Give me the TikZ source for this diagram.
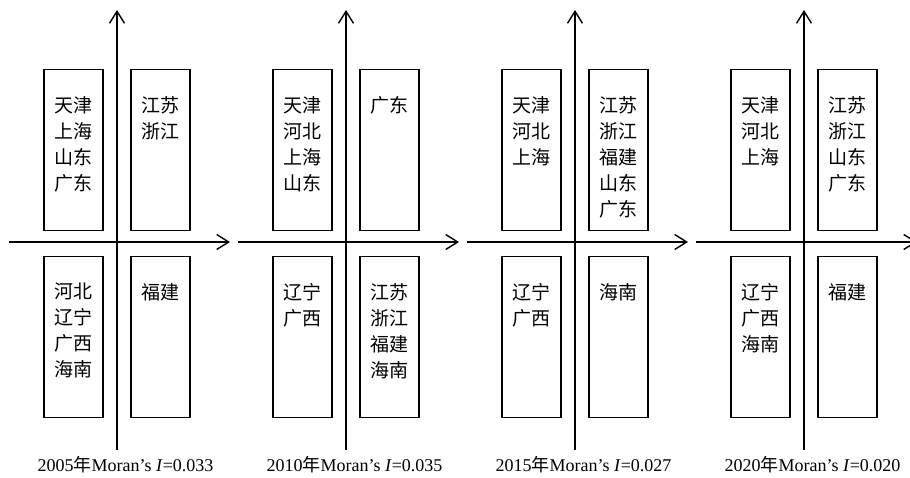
\documentclass[tikz,border=0pt]{standalone}
\usepackage{fontspec}
\setmainfont{Liberation Serif}
\newfontfamily\cjk{Noto Sans CJK SC}
\usetikzlibrary{arrows.meta}
\tikzset{
  axis/.style={line width=1.4pt,-{Straight Barb[length=12pt,width=15pt,line width=1.4pt]}},
  qbox/.style={draw,line width=1.2pt,minimum width=59pt,minimum height=161pt,inner sep=0pt,anchor=north},
  qtxt/.style={anchor=north,inner sep=0pt,align=center,font=\cjk\fontsize{19}{26}\selectfont},
  captxt/.style={font=\fontsize{18}{20}\selectfont,inner sep=0pt}
}
\newcommand{\panel}[7]{%
  \begin{scope}[xshift=#1]
    \coordinate (#2b) at (0,450);
    \coordinate (#2t) at (0,10);
    \coordinate (#2l) at (-108,242);
    \coordinate (#2r) at (113,242);
    \draw[axis] (#2b) -- (#2t);
    \draw[axis] (#2l) -- (#2r);
    \node[qbox] (#2ul) at (-43.5,69) {};
    \node[qbox] (#2ur) at (43.5,69) {};
    \node[qbox] (#2ll) at (-43.5,256) {};
    \node[qbox] (#2lr) at (43.5,256) {};
    \node[qtxt] (#2ult) at ([yshift=-27pt]#2ul.north) {#3};
    \node[qtxt] (#2urt) at ([yshift=-27pt]#2ur.north) {#4};
    \node[qtxt] (#2llt) at ([yshift=-27pt]#2ll.north) {#5};
    \node[qtxt] (#2lrt) at ([yshift=-27pt]#2lr.north) {#6};
    \node[captxt] (#2cap) at (8.5,465) {#7};
  \end{scope}}
\begin{document}
\begin{tikzpicture}[x=1pt,y=-1pt]
\useasboundingbox (0,0) rectangle (910,478);
\panel{117pt}{a}{天津\\上海\\山东\\广东}{江苏\\浙江}{河北\\辽宁\\广西\\海南}{福建}{2005{\cjk 年}Moran’s \textit{I}=0.033}
\panel{346pt}{b}{天津\\河北\\上海\\山东}{广东}{辽宁\\广西}{江苏\\浙江\\福建\\海南}{2010{\cjk 年}Moran’s \textit{I}=0.035}
\panel{575pt}{c}{天津\\河北\\上海}{江苏\\浙江\\福建\\山东\\广东}{辽宁\\广西}{海南}{2015{\cjk 年}Moran’s \textit{I}=0.027}
\panel{804pt}{d}{天津\\河北\\上海}{江苏\\浙江\\山东\\广东}{辽宁\\广西\\海南}{福建}{2020{\cjk 年}Moran’s \textit{I}=0.020}
\end{tikzpicture}
\end{document}
